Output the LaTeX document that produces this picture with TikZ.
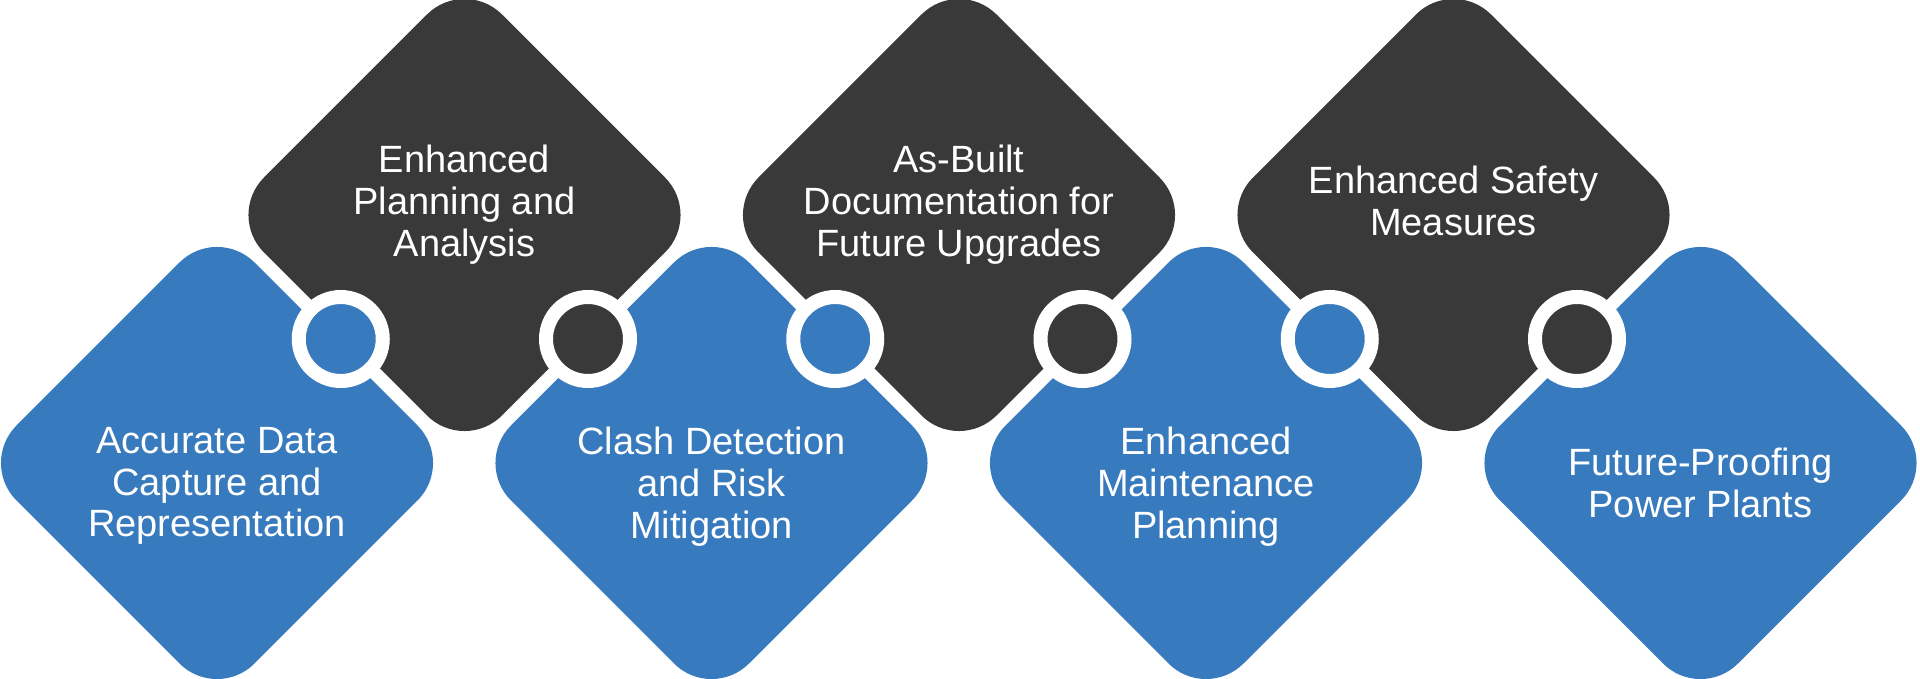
\documentclass[tikz,border=0pt]{standalone}
\usepackage{fontspec}
\setmainfont{Liberation Sans}
\usetikzlibrary{shapes.geometric,calc}
\definecolor{tileblue}{HTML}{377ABE}
\definecolor{tiledark}{HTML}{393939}
\tikzset{tile/.style={diamond,minimum size=476pt,inner sep=0pt,outer sep=0pt,rounded corners=53pt}}
\tikzset{bluetile/.style={tile,fill=tileblue},darktile/.style={tile,fill=tiledark}}
\tikzset{hole/.style={circle,draw=white,line width=14pt,minimum size=84pt,inner sep=0pt}}
\tikzset{caption/.style={text=white,align=center,inner sep=0pt,anchor=north,font=\fontsize{38}{41.7}\selectfont}}

\begin{document}
\begin{tikzpicture}[x=1pt,y=1pt]
  \useasboundingbox (0,0) rectangle (1920,679);

  \node[bluetile] (b1) at (217,216) {};
  \node[darktile] (d1) at (464.5,464) {};
  \node[bluetile] (b2) at (711.5,216) {};
  \node[darktile] (d2) at (959,464) {};
  \node[bluetile] (b3) at (1206,216) {};
  \node[darktile] (d3) at (1453.5,464) {};
  \node[bluetile] (b4) at (1700.5,216) {};

  \node[hole,fill=tileblue] (h1) at ($(b1)!0.5!(d1)$) {};
  \node[hole,fill=tiledark] (h2) at ($(d1)!0.5!(b2)$) {};
  \node[hole,fill=tileblue] (h3) at ($(b2)!0.5!(d2)$) {};
  \node[hole,fill=tiledark] (h4) at ($(d2)!0.5!(b3)$) {};
  \node[hole,fill=tileblue] (h5) at ($(b3)!0.5!(d3)$) {};
  \node[hole,fill=tiledark] (h6) at ($(d3)!0.5!(b4)$) {};

  \node[caption] (t1) at (217,252) {Accurate Data\\Capture and\\Representation};
  \node[caption] (t2) at (464.5,534) {Enhanced\\Planning and\\Analysis};
  \node[caption] (t3) at (711.5,252) {Clash Detection\\and Risk\\Mitigation};
  \node[caption] (t4) at (959,534) {As-Built\\Documentation for\\Future Upgrades};
  \node[caption] (t5) at (1206,252) {Enhanced\\Maintenance\\Planning};
  \node[caption] (t6) at (1453.5,513) {Enhanced Safety\\Measures};
  \node[caption] (t7) at (1700.5,231) {Future-Proofing\\Power Plants};

\end{tikzpicture}
\end{document}
